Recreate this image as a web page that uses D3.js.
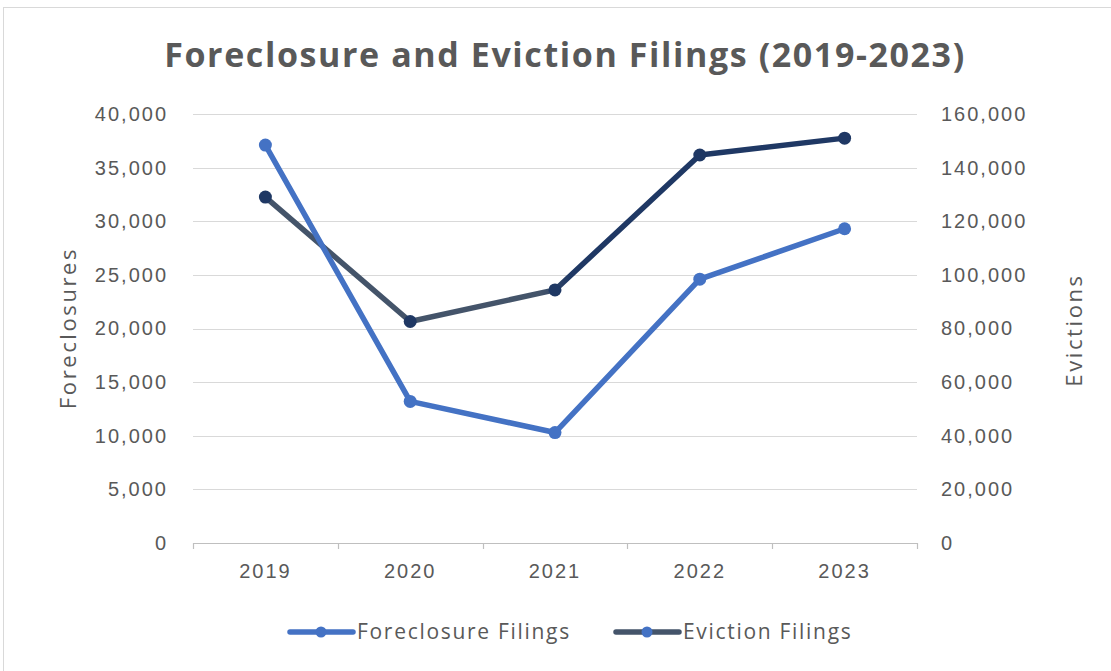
<!DOCTYPE html>
<html>
<head>
<meta charset="utf-8">
<script src="https://cdn.jsdelivr.net/npm/d3@7"></script>
<style>
  body { margin: 0; background: #fff; }
  svg { display: block; font-family: "Open Sans", "Noto Sans", sans-serif; }
</style>
</head>
<body>
<svg id="canvas"></svg>
<script>
// data
let years = ['2019', '2020', '2021', '2022', '2023']
let foreclosures = [37100, 13200, 10300, 24600, 29300]
let evictions = [129000, 82600, 94400, 144700, 151000]
let leftTicks = [0, 5000, 10000, 15000, 20000, 25000, 30000, 35000, 40000]
let rightTicks = [0, 20000, 40000, 60000, 80000, 100000, 120000, 140000, 160000]

const width = 1111
const height = 671
const plotLeft = 193
const plotRight = 917
const plotTop = 114
const plotBottom = 543

const blue = '#4472c4'
const navy = '#1f3864'
const slate = '#44546a'
const textGray = '#595959'

let svg = d3.select('#canvas')
    .attr('width', width)
    .attr('height', height)

// outer border
svg.append('rect')
    .attr('x', 3.5).attr('y', 7.5)
    .attr('width', 1130).attr('height', 700)
    .attr('fill', '#fff')
    .attr('stroke', '#d9d9d9')

let xScale = d3.scaleBand()
    .domain(years)
    .range([plotLeft, plotRight])
    .padding(0)

let yLeft = d3.scaleLinear().domain([0, 40000]).range([plotBottom, plotTop])
let yRight = d3.scaleLinear().domain([0, 160000]).range([plotBottom, plotTop])

let cx = (d) => xScale(d) + xScale.bandwidth() / 2

// gridlines
svg.append('g')
    .selectAll('line')
    .data(leftTicks.slice(1))
    .enter()
    .append('line')
    .attr('x1', plotLeft).attr('x2', plotRight)
    .attr('y1', (d) => Math.round(yLeft(d)) + 0.5)
    .attr('y2', (d) => Math.round(yLeft(d)) + 0.5)
    .attr('stroke', '#d9d9d9')
    .attr('stroke-width', 1.2)

// x axis line and ticks at category edges
svg.append('line')
    .attr('x1', plotLeft).attr('x2', plotRight)
    .attr('y1', plotBottom + 0.5).attr('y2', plotBottom + 0.5)
    .attr('stroke', '#bfbfbf')
    .attr('stroke-width', 1.2)

let edges = years.map((d) => xScale(d)).concat([plotRight])
svg.append('g')
    .selectAll('line')
    .data(edges)
    .enter()
    .append('line')
    .attr('x1', (d) => Math.round(d) + 0.5)
    .attr('x2', (d) => Math.round(d) + 0.5)
    .attr('y1', plotBottom).attr('y2', plotBottom + 6)
    .attr('stroke', '#bfbfbf')
    .attr('stroke-width', 1.2)

let styleAxis = (g) => {
    g.select('.domain').remove()
    g.selectAll('line').remove()
    g.selectAll('text')
        .attr('fill', textGray)
        .style('font-size', '20px')
        .style('letter-spacing', '2px')
}

svg.append('g')
    .attr('transform', 'translate(' + plotLeft + ',0)')
    .call(d3.axisLeft(yLeft).tickValues(leftTicks).tickFormat(d3.format(',')).tickSize(0).tickPadding(25))
    .call(styleAxis)

svg.append('g')
    .attr('transform', 'translate(' + plotRight + ',0)')
    .call(d3.axisRight(yRight).tickValues(rightTicks).tickFormat(d3.format(',')).tickSize(0).tickPadding(24))
    .call(styleAxis)

svg.append('g')
    .attr('transform', 'translate(0,' + plotBottom + ')')
    .call(d3.axisBottom(xScale).tickSize(0).tickPadding(21))
    .call(styleAxis)

// title
svg.append('text')
    .attr('x', 565).attr('y', 67)
    .attr('text-anchor', 'middle')
    .attr('fill', textGray)
    .style('font-size', '34px')
    .style('font-weight', 700)
    .style('letter-spacing', '1.6px')
    .text('Foreclosure and Eviction Filings (2019-2023)')

// axis titles
svg.append('text')
    .attr('transform', 'translate(76,328) rotate(-90)')
    .attr('text-anchor', 'middle')
    .attr('fill', textGray)
    .style('font-size', '22px')
    .style('letter-spacing', '2.6px')
    .text('Foreclosures')

svg.append('text')
    .attr('transform', 'translate(1082,330) rotate(-90)')
    .attr('text-anchor', 'middle')
    .attr('fill', textGray)
    .style('font-size', '22px')
    .style('letter-spacing', '2.6px')
    .text('Evictions')

// eviction line shifts from slate to navy
let grad = svg.append('defs').append('linearGradient')
    .attr('id', 'evGrad')
    .attr('gradientUnits', 'userSpaceOnUse')
    .attr('x1', plotLeft).attr('x2', plotRight)
    .attr('y1', 0).attr('y2', 0)
let gStop = (cx('2021') - plotLeft) / (plotRight - plotLeft)
grad.append('stop').attr('offset', gStop - 0.02).attr('stop-color', slate)
grad.append('stop').attr('offset', gStop + 0.02).attr('stop-color', navy)

let evLine = d3.line()
    .x((d, i) => cx(years[i]))
    .y((d) => yRight(d))

let fcLine = d3.line()
    .x((d, i) => cx(years[i]))
    .y((d) => yLeft(d))

svg.append('path')
    .datum(evictions)
    .attr('d', evLine)
    .attr('fill', 'none')
    .attr('stroke', 'url(#evGrad)')
    .attr('stroke-width', 5.5)
    .attr('stroke-linejoin', 'round')

svg.append('g')
    .selectAll('circle')
    .data(evictions)
    .enter()
    .append('circle')
    .attr('cx', (d, i) => cx(years[i]))
    .attr('cy', (d) => yRight(d))
    .attr('r', 6.5)
    .attr('fill', navy)

svg.append('path')
    .datum(foreclosures)
    .attr('d', fcLine)
    .attr('fill', 'none')
    .attr('stroke', blue)
    .attr('stroke-width', 5.5)
    .attr('stroke-linejoin', 'round')

svg.append('g')
    .selectAll('circle')
    .data(foreclosures)
    .enter()
    .append('circle')
    .attr('cx', (d, i) => cx(years[i]))
    .attr('cy', (d) => yLeft(d))
    .attr('r', 6.5)
    .attr('fill', blue)

// legend
let legendItems = [
    { name: 'Foreclosure Filings', line: blue, dot: blue, x: 290 },
    { name: 'Eviction Filings', line: slate, dot: blue, x: 616 }
]
let legend = svg.append('g')
    .selectAll('g')
    .data(legendItems)
    .enter()
    .append('g')
    .attr('transform', (d) => 'translate(' + d.x + ',632)')

legend.append('line')
    .attr('x1', 0).attr('x2', 63)
    .attr('stroke', (d) => d.line)
    .attr('stroke-width', 5.5)
    .attr('stroke-linecap', 'round')
legend.append('circle')
    .attr('cx', 31).attr('r', 5.5)
    .attr('fill', (d) => d.dot)
legend.append('text')
    .attr('x', 67).attr('y', 7)
    .attr('fill', textGray)
    .style('font-size', '21px')
    .style('letter-spacing', '1.7px')
    .text((d) => d.name)
</script>
</body>
</html>
